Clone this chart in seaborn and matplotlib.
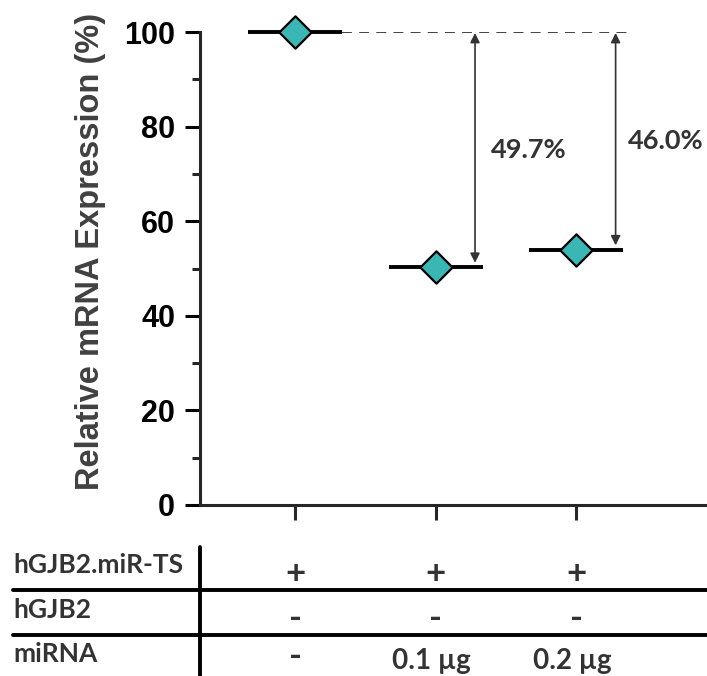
import numpy as np
import pandas as pd
import seaborn as sns
import matplotlib.pyplot as plt
from matplotlib import transforms

# data
groups = ["ctrl", "0.1", "0.2"]
expression = [100.0, 50.3, 54.0]
reduction_labels = ["49.7%", "46.0%"]

row_names = ["hGJB2.miR-TS", "hGJB2", "miRNA"]
row_values = [["+", "+", "+"],
              ["-", "-", "-"],
              ["-", "0.1 \u00b5g", "0.2 \u00b5g"]]

df = pd.DataFrame({"group": groups, "value": expression})
df["pos"] = np.arange(len(df))

sns.set_style("ticks")
plt.rcParams["font.family"] = ["Liberation Sans", "DejaVu Sans"]

teal = "#3AB6B4"
grey = "#333333"
tfont = ["Lato", "DejaVu Sans"]

fig = plt.figure(figsize=(7.07, 6.76), dpi=100)
ax = fig.add_axes([200 / 707, 1 - 505 / 676, 507 / 707, 473 / 676])

half = 0.335
# mean lines
ax.hlines(df["value"], df["pos"] - half, df["pos"] + half, color="black", lw=2.8, zorder=3, clip_on=False)
sns.scatterplot(data=df, x="pos", y="value", marker="D", s=270, color=teal,
                edgecolor="black", linewidth=1.6, zorder=5, clip_on=False, ax=ax, legend=False)

# dashed reference at control level
ctrl = df["value"].iloc[0]
ax.hlines(ctrl, df["pos"].iloc[0] + half, 2.4, color=grey, lw=1.3, linestyles=(0, (5.5, 4)), zorder=2)

# arrows + labels
for i, lab in enumerate(reduction_labels):
    p = df["pos"].iloc[i + 1] + 0.28
    v = df["value"].iloc[i + 1]
    ax.annotate("", xy=(p, v + 0.9), xytext=(p, ctrl - 0.2),
                arrowprops=dict(arrowstyle="<|-|>", color=grey, lw=1.2, mutation_scale=14,
                                shrinkA=0, shrinkB=0))
ax.text(1.39, 75.0, reduction_labels[0], fontsize=19.5, fontweight="bold", family=tfont,
        color=grey, va="center", ha="left")
ax.text(2.37, 77.0, reduction_labels[1], fontsize=19.5, fontweight="bold", family=tfont,
        color=grey, va="center", ha="left")

ax.set_xlim(-0.676, 2.93)
ax.set_ylim(0, 100)
ax.set_yticks([0, 20, 40, 60, 80, 100])
ax.set_yticks([10, 30, 50, 70, 90], minor=True)
ax.set_xticks(df["pos"])
ax.set_xticklabels([])
ax.tick_params(axis="y", which="major", length=11, width=2.2, labelsize=22, pad=7, colors="black")
ax.tick_params(axis="y", which="minor", length=5.5, width=2.2)
ax.tick_params(axis="x", length=11, width=2.2)
for lab in ax.get_yticklabels():
    lab.set_fontweight("bold")
ax.set_xlabel("")
ax.set_ylabel("Relative mRNA Expression (%)", fontsize=23.5, fontweight="bold", color="#404040")
ax.yaxis.set_label_coords(-0.185, 0.537)
sns.despine(ax=ax)
for s in ["left", "bottom"]:
    ax.spines[s].set_linewidth(2.2)

# condition table under the axis
trans = transforms.blended_transform_factory(ax.transData, fig.transFigure)
label_base = [573, 618, 662]
sign_off = [11, 11, 5]
for r, name in enumerate(row_names):
    fig.text(13 / 707, 1 - label_base[r] / 676, name, fontsize=19, fontweight="bold", family=tfont,
             color=grey, ha="left", va="baseline")
    for c, val in enumerate(row_values[r]):
        sign = val in ("+", "-")
        off = sign_off[r] if sign else 7
        fig.text(df["pos"].iloc[c] - 0.03 if "g" in val else df["pos"].iloc[c], 1 - (label_base[r] + off) / 676, val,
                 transform=trans, fontsize=25 if sign else 20, fontweight="bold", family=tfont,
                 color=grey, ha="center", va="baseline")

for yy in [590, 635]:
    fig.add_artist(plt.Line2D([13 / 707, 1], [1 - yy / 676] * 2, color="black", lw=2.8))
fig.add_artist(plt.Line2D([200 / 707] * 2, [1 - 547 / 676, 0], color="black", lw=2.8))

fig.savefig("out.png", dpi=100)
